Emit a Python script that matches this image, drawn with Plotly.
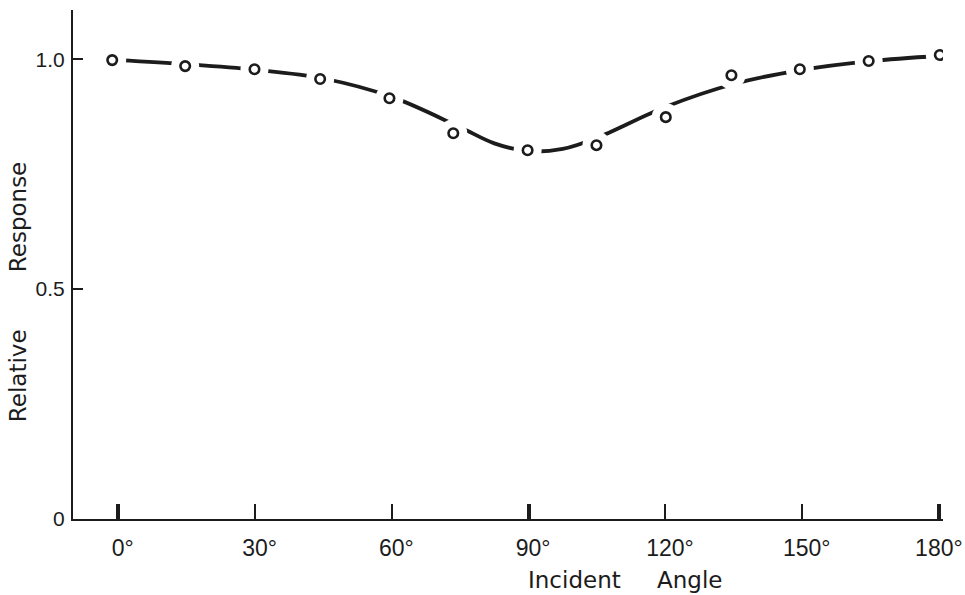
import plotly.graph_objects as go

# ---- data ----
point_angle = [-1.3, 14.7, 29.9, 44.3, 59.5, 73.5, 89.8, 104.9, 120.1, 134.5, 149.5, 164.6, 180.2]
point_resp = [0.998, 0.985, 0.978, 0.957, 0.915, 0.839, 0.802, 0.813, 0.874, 0.965, 0.978, 0.996, 1.009]

curve_angle = [0, 15, 30, 45, 60, 75, 82.5, 90, 97.5, 105, 120, 135, 150, 165, 180]
curve_resp = [0.998, 0.989, 0.977, 0.958, 0.918, 0.852, 0.817, 0.800, 0.805, 0.829, 0.896, 0.946, 0.977, 0.996, 1.007]

x_ticks = [0, 30, 60, 90, 120, 150, 180]
x_tick_text = ["\u2009\u20090°", "\u2009\u200930°", "\u2009\u200960°", "\u2009\u200990°",
               "\u2009\u2009120°", "\u2009\u2009150°", "180°"]
x_major_ticks = [0, 90, 180]
y_ticks = [0, 0.5, 1.0]
y_tick_text = ["0", "0.5", "1.0"]

INK = "#1c1c1c"

fig = go.Figure()

# fitted curve
fig.add_trace(go.Scatter(
    x=curve_angle, y=curve_resp, mode="lines",
    line=dict(color=INK, width=3.8, shape="spline", smoothing=1.0),
    hoverinfo="skip", showlegend=False))

# white halo to break the curve around each measured point
fig.add_trace(go.Scatter(
    x=point_angle, y=point_resp, mode="markers",
    marker=dict(symbol="circle", size=28, color="white", line=dict(width=0)),
    hoverinfo="skip", showlegend=False))

# measured points
fig.add_trace(go.Scatter(
    x=point_angle, y=point_resp, mode="markers",
    marker=dict(symbol="circle-open", size=9.5, color=INK, line=dict(width=2.6, color=INK)),
    showlegend=False))

# invisible trace on overlay axis for heavy ticks
fig.add_trace(go.Scatter(x=[x_major_ticks[0]], y=[0], xaxis="x2", mode="markers",
                         marker=dict(opacity=0), hoverinfo="skip", showlegend=False))

x_range = [-9.9, 180.9]
LABEL_FONT = "Liberation Sans, Arial, sans-serif"
TITLE_FONT = "DejaVu Sans, sans-serif"

fig.update_layout(
    width=965, height=595,
    margin=dict(l=73, r=22, t=10, b=76, autoexpand=False),
    paper_bgcolor="white", plot_bgcolor="white",
    font=dict(family=LABEL_FONT, color=INK),
    xaxis=dict(
        range=x_range, showgrid=False, zeroline=False, automargin=False,
        showline=True, linecolor=INK, linewidth=2,
        tickmode="array", tickvals=x_ticks, ticktext=x_tick_text,
        ticks="inside", ticklen=15, tickwidth=1.6, tickcolor=INK,
        tickfont=dict(size=23, family=LABEL_FONT, color=INK),
        ticklabelstandoff=7, ticklabeloverflow="allow",
    ),
    xaxis2=dict(
        range=x_range, overlaying="x", anchor="y", side="bottom", automargin=False,
        showgrid=False, zeroline=False, showline=False,
        tickmode="array", tickvals=x_major_ticks, showticklabels=False,
        ticks="inside", ticklen=15, tickwidth=3.5, tickcolor=INK,
    ),
    yaxis=dict(
        range=[0, 1.107], showgrid=False, zeroline=False, automargin=False,
        showline=True, linecolor=INK, linewidth=2,
        tickmode="array", tickvals=y_ticks, ticktext=y_tick_text,
        ticks="inside", ticklen=10, tickwidth=1.6, tickcolor=INK,
        tickfont=dict(size=21, family=LABEL_FONT, color=INK),
        ticklabelstandoff=2,
    ),
    annotations=[
        dict(text="Incident", xref="paper", yref="paper", x=0.576, y=-0.12,
             xanchor="center", yanchor="middle", showarrow=False,
             font=dict(size=23, family=TITLE_FONT, color=INK)),
        dict(text="Angle", xref="paper", yref="paper", x=0.709, y=-0.12,
             xanchor="center", yanchor="middle", showarrow=False,
             font=dict(size=23, family=TITLE_FONT, color=INK)),
        dict(text="Relative", xref="paper", yref="paper", x=-0.063, y=(519 - 376) / 509,
             xanchor="center", yanchor="middle", textangle=-90, showarrow=False,
             font=dict(size=23, family=TITLE_FONT, color=INK)),
        dict(text="Response", xref="paper", yref="paper", x=-0.063, y=(519 - 217) / 509,
             xanchor="center", yanchor="middle", textangle=-90, showarrow=False,
             font=dict(size=23, family=TITLE_FONT, color=INK)),
    ],
)

fig.write_html("out.html")
